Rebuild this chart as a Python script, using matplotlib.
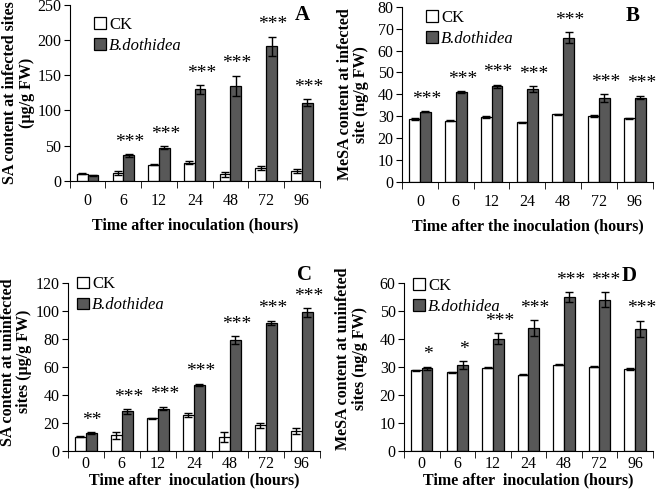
import numpy as np
import matplotlib
matplotlib.use("Agg")
import matplotlib.pyplot as plt
from matplotlib.patches import Patch

plt.rcParams['font.family'] = ['Liberation Serif', 'DejaVu Serif']

times = ['0', '6', '12', '24', '48', '72', '96']

# panel A - SA at infected sites
a_ck = [10, 11, 23, 26, 9, 18, 14]
a_ck_err = [0.5, 3, 0.5, 2, 4, 3, 3]
a_bd = [8, 36, 47, 130, 135, 191, 111]
a_bd_err = [0.5, 2, 2, 6, 14, 14, 5]
a_sig = ['', '***', '***', '***', '***', '***', '***']

# panel B - MeSA at infected site
b_ck = [28.7, 28.0, 29.7, 27.2, 30.8, 30.1, 29.1]
b_ck_err = [0.3, 0.3, 0.3, 0.3, 0.3, 0.3, 0.3]
b_bd = [32.0, 41.0, 43.7, 42.5, 66.0, 38.2, 38.5]
b_bd_err = [0.3, 0.4, 0.8, 1.2, 2.3, 1.8, 0.8]
b_sig = ['***'] * 7

# panel C - SA at uninfected sites
c_ck = [10, 11, 23, 25.5, 9.5, 18, 14]
c_ck_err = [0.3, 2.5, 0.3, 1.5, 3.5, 2, 2.5]
c_bd = [12.5, 28, 30, 47, 79, 91.5, 99]
c_bd_err = [0.7, 1.5, 1.3, 0.8, 3, 1.5, 3]
c_sig = ['**', '***', '***', '***', '***', '***', '***']

# panel D - MeSA at uninfected sites
d_ck = [28.7, 28.0, 29.7, 27.2, 30.8, 30.1, 29.1]
d_ck_err = [0.3, 0.3, 0.3, 0.3, 0.3, 0.3, 0.3]
d_bd = [29.5, 30.6, 40.0, 44.0, 55.0, 54.0, 43.5]
d_bd_err = [0.6, 1.3, 2.0, 2.8, 1.8, 2.7, 3.0]
d_sig = ['*', '*', '***', '***', '***', '***', '***']

DARK = '#585858'


def draw_panel(ax, ck, ck_err, bd, bd_err, sig, ymax, ystep, ylabel, xlabel,
               letter, letter_pos, leg_pos, tickpad, xlabelpad, ylab_xy):
    x = np.arange(len(times))
    w = 0.3
    ekw = dict(elinewidth=1.0, capsize=3, capthick=1.0, ecolor='black')
    ax.bar(x - w / 2, ck, w, yerr=ck_err, color='white', edgecolor='black',
           linewidth=0.9, error_kw=ekw)
    ax.bar(x + w / 2, bd, w, yerr=bd_err, color=DARK, edgecolor='black',
           linewidth=0.9, error_kw=ekw)
    for i, s in enumerate(sig):
        if s:
            ax.text(x[i] + 0.18, bd[i] + bd_err[i] + ymax * 0.02, s,
                    ha='center', va='bottom', fontsize=14)
    ax.set_xlim(-0.5, len(times) - 0.5)
    ax.set_ylim(0, ymax)
    ax.set_yticks(np.arange(0, ymax + 0.1, ystep))
    ax.set_xticks(x)
    ax.set_xticklabels(times)
    ax.set_xticks(np.arange(-0.5, len(times)), minor=True)
    ax.tick_params(axis='x', which='major', length=0, labelsize=11.5, pad=tickpad)
    ax.tick_params(axis='x', which='minor', length=5, direction='out')
    ax.tick_params(axis='y', length=4, direction='out', labelsize=11.5, pad=2)
    for sp in ['top', 'right']:
        ax.spines[sp].set_visible(False)
    ax.set_ylabel(ylabel, fontsize=11.5, fontweight='bold', linespacing=1.05,
                  va='center')
    ax.yaxis.set_label_coords(*ylab_xy)
    ax.set_xlabel(xlabel, fontsize=11.5, fontweight='bold', labelpad=xlabelpad)
    ax.text(letter_pos[0], letter_pos[1], letter, transform=ax.transAxes,
            fontsize=15, fontweight='bold', ha='center', va='center')
    handles = [Patch(facecolor='white', edgecolor='black', linewidth=0.9),
               Patch(facecolor=DARK, edgecolor='black', linewidth=0.9)]
    leg = ax.legend(handles, ['CK', 'B.dothidea'], loc='upper left',
                    bbox_to_anchor=leg_pos, frameon=False, fontsize=12,
                    handlelength=0.7, handleheight=0.7, handletextpad=0.2,
                    borderaxespad=0, labelspacing=0.3)
    leg.get_texts()[1].set_fontstyle('italic')


fig = plt.figure(figsize=(6.58, 4.94), dpi=100)
axA = fig.add_axes([0.106, 0.634, 0.380, 0.356])
axB = fig.add_axes([0.611, 0.632, 0.381, 0.354])
axC = fig.add_axes([0.103, 0.088, 0.383, 0.339])
axD = fig.add_axes([0.614, 0.088, 0.378, 0.339])

draw_panel(axA, a_ck, a_ck_err, a_bd, a_bd_err, a_sig, 250, 50,
           'SA content at infected sites\n(µg/g FW)',
           'Time after inoculation (hours)', 'A', (0.93, 0.94), (0.07, 0.97),
           9, 6, (-0.206, 0.5))
draw_panel(axB, b_ck, b_ck_err, b_bd, b_bd_err, b_sig, 80, 10,
           'MeSA content at infected\nsite (ng/g FW)',
           'Time after the inoculation (hours)', 'B', (0.92, 0.95), (0.07, 1.02),
           9, 6, (-0.195, 0.5))
draw_panel(axC, c_ck, c_ck_err, c_bd, c_bd_err, c_sig, 120, 20,
           'SA content at uninfected\nsites (µg/g FW)',
           'Time after  inoculation (hours)', 'C', (0.94, 1.05), (0.01, 1.08),
           4, 0, (-0.205, 0.53))
draw_panel(axD, d_ck, d_ck_err, d_bd, d_bd_err, d_sig, 60, 10,
           'MeSA content at uninfeted\nsites (ng/g FW)',
           'Time after  inoculation (hours)', 'D', (0.905, 1.04), (0.01, 1.07),
           4, 0, (-0.21, 0.55))

fig.savefig('out.png', dpi=100)
